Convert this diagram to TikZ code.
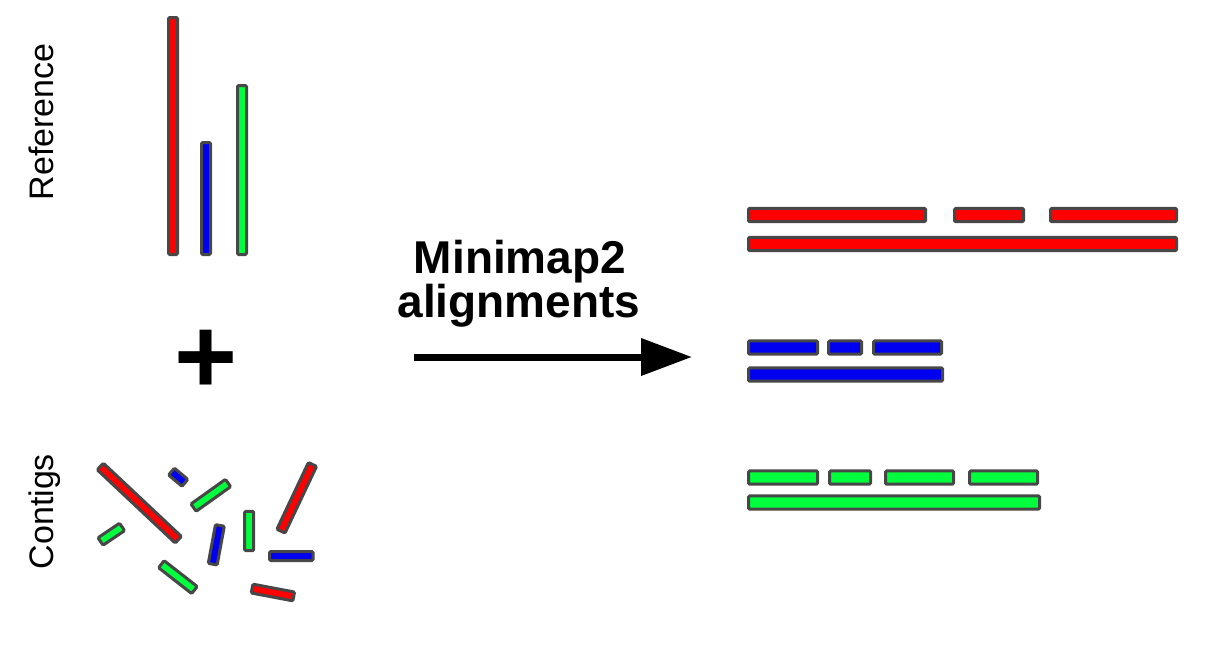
\documentclass[tikz,border=0pt]{standalone}
\usepackage{fontspec}
\setmainfont{Liberation Sans}
\usetikzlibrary{arrows.meta}
\definecolor{cred}{HTML}{FF0000}
\definecolor{cblue}{HTML}{0000F0}
\definecolor{cgreen}{HTML}{00FF3C}
\definecolor{edge}{HTML}{474747}
\tikzset{
  bar/.style={draw=edge, line width=3pt, rounded corners=1.2pt, inner sep=0pt, outer sep=0pt, rectangle},
  hbar/.style={bar, minimum height=13.2pt},
  cbar/.style={bar, minimum height=9pt},
  vbar/.style={bar, minimum width=9pt},
  sidelabel/.style={rotate=90, anchor=base, font=\fontsize{34}{40}\selectfont},
  steplabel/.style={anchor=base, font=\bfseries\fontsize{46}{44}\selectfont},
  mainarrow/.style={line width=7pt, -{Triangle[length=51pt,width=36pt]}}
}
\begin{document}
\begin{tikzpicture}[x=1pt,y=-1pt]
\useasboundingbox (0,0) rectangle (1222,670);
% side labels
\node[sidelabel] (lref) at (53,121.7) {Reference};
\node[sidelabel] (lcon) at (53,511.7) {Contigs};
% reference bars
\node[vbar, fill=cred, minimum height=237pt] (refR) at (173,136) {};
\node[vbar, fill=cblue, minimum height=112pt] (refB) at (206,198.5) {};
\node[vbar, fill=cgreen, minimum height=169pt] (refG) at (242,170) {};
% plus
\node[anchor=base, font=\bfseries\fontsize{108}{108}\selectfont, inner sep=0pt] (plus) at (206,393) {+};
% contigs
\node[cbar, fill=cred, minimum width=107pt, rotate=-43.2] (c1) at (139.3,503.1) {};
\node[cbar, fill=cblue, minimum width=17.5pt, rotate=-40] (c2) at (178.2,477.2) {};
\node[cbar, fill=cgreen, minimum width=42.4pt, rotate=35.5] (c3) at (210.8,495.3) {};
\node[cbar, fill=cgreen, minimum width=26pt, rotate=34] (c4) at (111.3,534.2) {};
\node[cbar, fill=cblue, minimum width=39.4pt, rotate=79.5] (c5) at (216.3,544.8) {};
\node[cbar, fill=cgreen, minimum width=39.4pt, rotate=90] (c6) at (249.2,531) {};
\node[cbar, fill=cred, minimum width=73.8pt, rotate=64.7] (c7) at (296.7,497.8) {};
\node[cbar, fill=cblue, minimum width=43.4pt] (c8) at (291.3,556) {};
\node[cbar, fill=cgreen, minimum width=42pt, rotate=-38] (c9) at (177.9,577.1) {};
\node[cbar, fill=cred, minimum width=42.4pt, rotate=-10.7] (c10) at (272.9,592.5) {};
% arrow and label
\node[steplabel] (t1) at (520,273) {Minimap2};
\node[steplabel] (t2) at (519,317) {alignments};
\coordinate (as) at (414,357);
\coordinate (ae) at (692,357);
\draw[mainarrow] (as) -- (ae);
% red alignments
\node[hbar, fill=cred, minimum width=177pt] (r1a) at (837,215) {};
\node[hbar, fill=cred, minimum width=69pt] (r1b) at (989,215) {};
\node[hbar, fill=cred, minimum width=126pt] (r1c) at (1113.5,215) {};
\node[hbar, fill=cred, minimum width=428pt] (r2) at (962.5,244) {};
% blue alignments
\node[hbar, fill=cblue, minimum width=69pt] (b1a) at (783,347.5) {};
\node[hbar, fill=cblue, minimum width=33pt] (b1b) at (845,347.5) {};
\node[hbar, fill=cblue, minimum width=68pt] (b1c) at (907.5,347.5) {};
\node[hbar, fill=cblue, minimum width=194pt] (b2) at (845.5,374.5) {};
% green alignments
\node[hbar, fill=cgreen, minimum width=69pt] (g1a) at (783,477.5) {};
\node[hbar, fill=cgreen, minimum width=41pt] (g1b) at (850,477.5) {};
\node[hbar, fill=cgreen, minimum width=68pt] (g1c) at (919.5,477.5) {};
\node[hbar, fill=cgreen, minimum width=68pt] (g1d) at (1003.5,477.5) {};
\node[hbar, fill=cgreen, minimum width=291pt] (g2) at (894,502.5) {};
\end{tikzpicture}
\end{document}
